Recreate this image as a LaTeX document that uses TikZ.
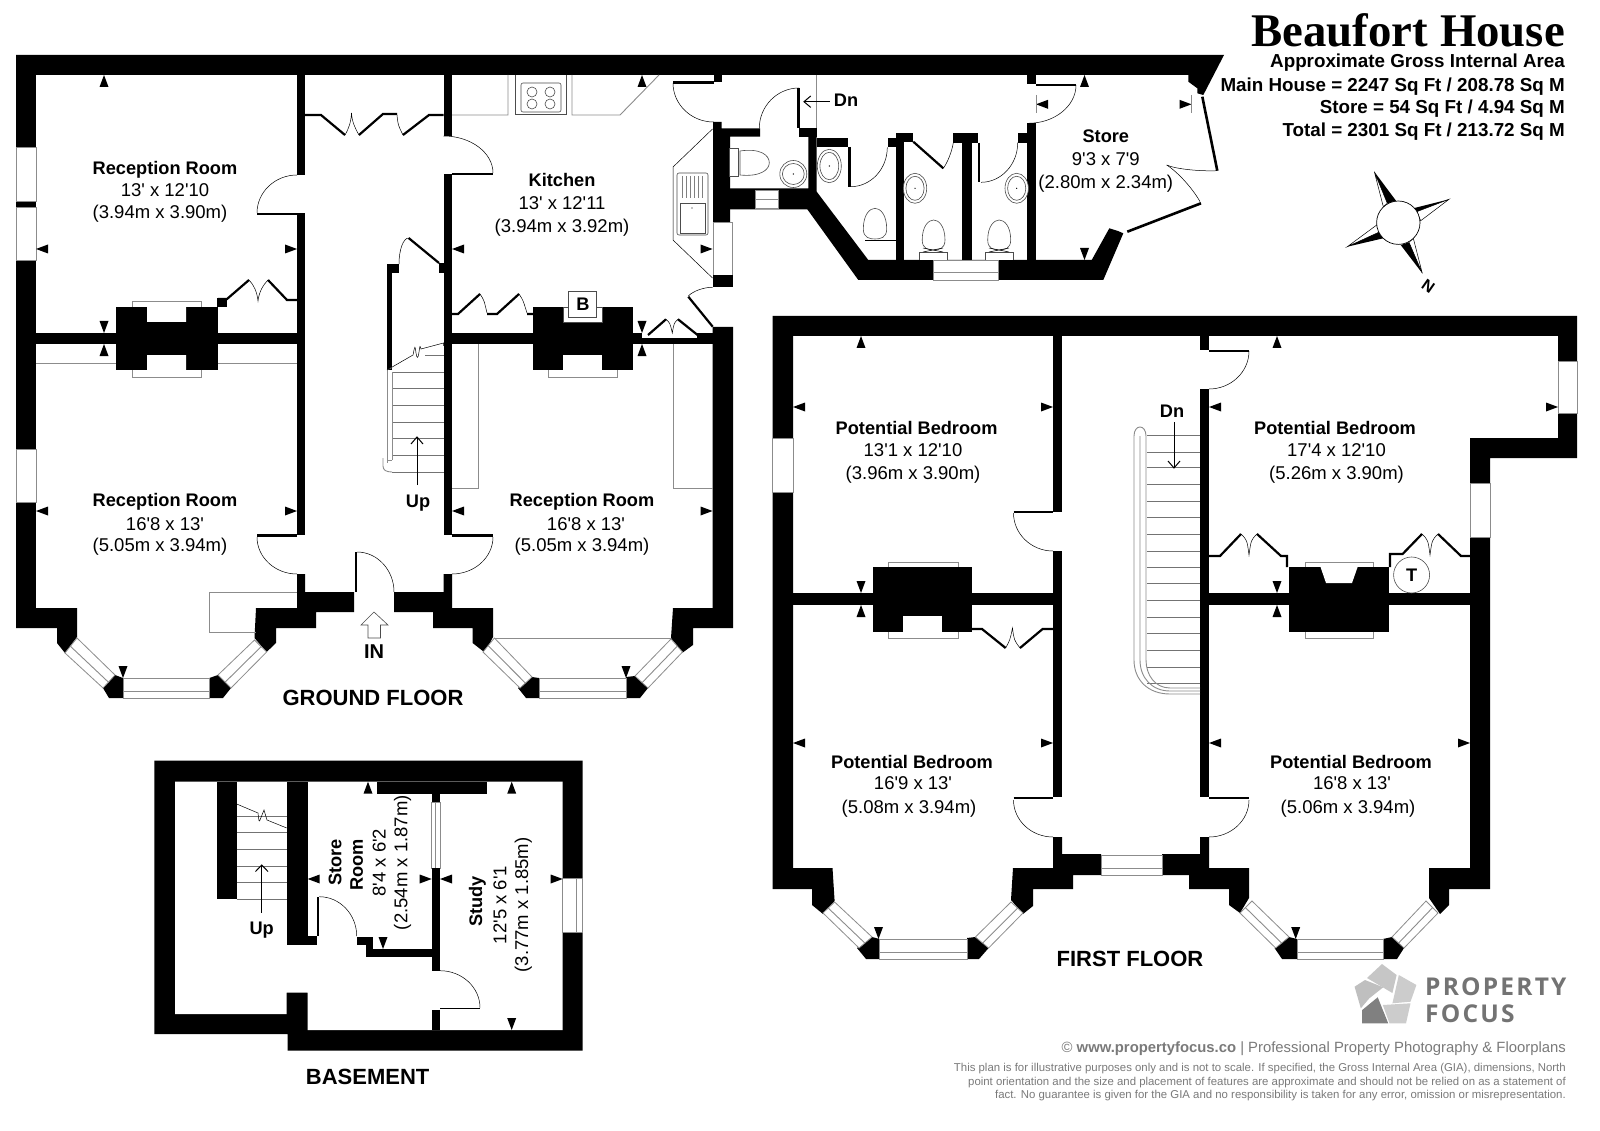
\documentclass[tikz,border=0pt]{standalone}
\usepackage{fontspec}
\setmainfont{Liberation Sans}[Ligatures=TeXOff]
\newfontfamily\titlefont{Liberation Serif}[Ligatures=TeXOff]
\newfontfamily\logofont{Open Sans}[Ligatures=TeXOff,LetterSpace=9]
\usetikzlibrary{calc}
\definecolor{glassgray}{gray}{0.55}
\definecolor{logotext}{gray}{0.45}
\definecolor{smallprint}{gray}{0.48}
\tikzset{
  wallfill/.style={fill=black,draw=none},
  glass/.style={fill=white,draw=glassgray,line width=0.8pt},
  greyline/.style={draw=glassgray,line width=0.9pt},
  thinline/.style={draw=black,line width=0.5pt},
  fixture/.style={draw=black!70,line width=0.6pt,fill=white},
  leaf/.style={draw=black,line width=2.2pt},
  tread/.style={draw=black!55,line width=0.7pt},
  openarrow/.style={draw=black,line width=0.6pt},
  roomname/.style={font=\bfseries\fontsize{18.2}{18.2}\selectfont,inner sep=0pt},
  roomdim/.style={font=\fontsize{18.5}{18.5}\selectfont,inner sep=0pt},
  floorname/.style={font=\bfseries\fontsize{22}{22}\selectfont,inner sep=0pt},
  areatext/.style={font=\bfseries\fontsize{18.8}{18.8}\selectfont,inner sep=0pt,anchor=east},
  printtext/.style={font=\fontsize{11.4}{11.4}\selectfont,text=smallprint,inner sep=0pt,anchor=east},
}
\newcommand\dimU[2]{\fill (#1,#2)--(#1-4.5,#2+12)--(#1+4.5,#2+12)--cycle;}
\newcommand\dimD[2]{\fill (#1,#2)--(#1-4.5,#2-12)--(#1+4.5,#2-12)--cycle;}
\newcommand\dimL[2]{\fill (#1,#2)--(#1+12,#2-4.5)--(#1+12,#2+4.5)--cycle;}
\newcommand\dimR[2]{\fill (#1,#2)--(#1-12,#2-4.5)--(#1-12,#2+4.5)--cycle;}
\newcommand\doorarc[3]{\draw[thinline] (#1) .. controls ($(#1)!0.55!(#3)$) and ($(#2)!0.55!(#3)$) .. (#2);}
\newcommand\wallrect[4]{\fill[wallfill] (#1,#2) rectangle (#3,#4);}
\newcommand\winrect[4]{\draw[glass] (#1,#2) rectangle (#3,#4);}
\newcommand\slantwin[4]{\draw[glass] (#1)--(#2)--(#3)--(#4)--cycle;
  \draw[greyline] ($(#1)!0.45!(#2)$)--($(#4)!0.45!(#3)$);}
% tip, black side, white side, mid point on the circle
\newcommand\compassarm[4]{%
  \draw[fill=white,draw=black,line width=0.5pt] (#1)--(#3)--(#4)--cycle;
  \fill (#1)--(#2)--(#4)--cycle;}
% egg shaped toilet bowl: centre x, top y, half width, widest y
\newcommand\eggbowl[4]{\draw[fixture] (#1-#3,#4) .. controls (#1-#3,#2+6) and (#1-5,#2) .. (#1,#2) .. controls (#1+5,#2) and (#1+#3,#2+6) .. (#1+#3,#4) .. controls (#1+#3,#4+9) and (#1+5,#4+10) .. (#1,#4+10) .. controls (#1-5,#4+10) and (#1-#3,#4+9) .. (#1-#3,#4) -- cycle;}
\newcommand\basin[4]{\draw[fixture] (#1,#2) ellipse (#3 and #4);\draw[fixture] (#1,#2) ellipse (#3-2.6 and #4-3);\fill (#1,#2) circle (0.7);}
\begin{document}
\begin{tikzpicture}[x=1pt,y=-1pt]
\useasboundingbox (0,0) rectangle (1600,1131);
\fill[white] (0,0) rectangle (1600,1131);

%% ================= GROUND FLOOR =================
% top band
\fill[wallfill] (16,55)--(1224,55)--(1203.3,95)--(1197.3,93.3)--(1197.3,88.3)--(1188.3,81.7)--(1188.3,75)--(16,75)--cycle;
% left wall + left bay
\wallrect{16}{75}{36}{628}
\fill[wallfill] (16,608)--(77,608)--(77,637)--(65,653)--(57,643)--(57,628)--(16,628)--cycle;
\fill[wallfill] (115,675)--(123,678)--(123,698)--(109,698)--(103,688)--cycle;
\fill[wallfill] (209.4,678)--(209.4,698)--(223,698)--(231,688)--(218,675)--cycle;
\fill[wallfill] (256,608)--(297,608)--(297,574)--(305,574)--(305,592)--(354,592)--(354,612)--(316,612)--(316,628)--(276,628)--(276,643)--(266.6,652)--(254.5,638)--cycle;
\fill[wallfill] (394,592)--(443.5,592)--(443.5,574)--(452,574)--(452,608)--(493,608)--(493,637)--(485,652.7)--(472.6,643)--(472.6,628)--(433,628)--(433,612)--(394,612)--cycle;
\wallrect{355}{552}{357}{592}
% right bay
\fill[wallfill] (532,677)--(539,678)--(539,698)--(526,698)--(518,688)--cycle;
\fill[wallfill] (626,677)--(626,698)--(640,698)--(648,688)--(635,676)--cycle;
\fill[wallfill] (671,638)--(673,608)--(712.5,608)--(712.5,327)--(733,327)--(733,628)--(693,628)--(693,645)--(682.5,652.7)--cycle;
% windows ground
\winrect{16}{147}{36}{201}\winrect{16}{207}{36}{260}\winrect{16}{449}{36}{502}
\slantwin{65,653}{77,638}{115,675}{103,688}
\slantwin{231,688}{218,675}{254.5,640}{266.6,652}
\slantwin{483,652}{494.4,638}{532,677}{520,688}
\slantwin{648,688}{635,676}{671,639}{682.5,652}
\draw[glass] (123,678) rectangle (209.4,698); \draw[greyline] (123,691)--(209.4,691);
\draw[glass] (539,678) rectangle (626,698); \draw[greyline] (539,691)--(626,691);
\draw[greyline] (494.4,638)--(671,638);
% hall walls
\wallrect{297}{75}{305}{175}\wallrect{297}{213}{305}{535}
\wallrect{443.5}{75}{452}{136}\wallrect{443.5}{174}{452}{535}
% door leaves and arcs ground
\draw[leaf] (257,214)--(297,214);\doorarc{257,213}{297,175}{257,175}
\draw[leaf] (452,174)--(493,174);\doorarc{493,173}{443.5,136}{493,136}
\draw[leaf] (257,535.5)--(297,535.5);\doorarc{257,537}{297,574}{257,574}
\draw[leaf] (452,535.5)--(493,535.5);\doorarc{493,537}{452,574}{493,574}
\doorarc{357,552}{394,592}{394,552}
% party walls and chimney
\wallrect{36}{333}{297}{344}\wallrect{116}{307}{218}{370}
\fill[white] (147,307) rectangle (186,322) (147,355) rectangle (186,370);
\draw[greyline] (132,307)--(132,301)--(201,301)--(201,307) (132,370)--(132,377)--(201,377)--(201,370);
\draw[greyline] (36,363)--(116,363) (218,363)--(297,363);
\wallrect{452}{333}{533}{344}\wallrect{533}{307}{632.6}{370}
\wallrect{632.6}{338.3}{712.7}{344}\wallrect{632.6}{333}{642}{338.3}\wallrect{696.7}{333}{712.7}{338.3}
\draw[fixture] (563,307) rectangle (602,322);
\draw[fixture] (568.6,291) rectangle (596,317);
\fill[white] (563,355) rectangle (602,370);
\draw[greyline] (548,370)--(548,377)--(617,377)--(617,370);
\draw[greyline] (478,344)--(478,488)--(452,488) (673,344)--(673,488)--(712.5,488);
\draw[greyline] (209.4,592)--(297,592) (209.4,592)--(209.4,632)--(255.5,632);
% hall cupboard
\draw[leaf,line join=miter] (305,115)--(321,115)--(345,135) (359,135)--(383,114)--(397,114) (403,135)--(429,115)--(443.5,115);
\draw[thinline] (345,135) .. controls (349,128) and (351,122) .. (351.5,113) .. controls (352,122) and (355,128) .. (359,135);
\draw[thinline] (397,115) .. controls (398,125) .. (403,135);
% reception cupboard
\wallrect{217}{298}{227}{307}
\draw[leaf] (218,299)--(227,299)--(249,280) (268,280)--(287,300)--(297,300);
\draw[thinline] (249,280) .. controls (254,285) and (257,292) .. (258,301) .. controls (259,292) and (263,285) .. (268,280);
% kitchen cupboards
\draw[leaf] (452,314)--(458,314)--(480,294) (487,314)--(497,314)--(519,294) (527,314)--(533,314);
\draw[thinline] (480,294) .. controls (484,300) .. (487,313) (519,294) .. controls (523,300) .. (527,313);
\draw[leaf] (648,335)--(666,319.3) (678,319.3)--(701.7,338.3);
\draw[thinline] (666,319.3) .. controls (670,323) .. (672.3,333) .. controls (674,323) .. (678,319.3);
% ground stairs
\wallrect{387}{264}{392}{370}\wallrect{392}{264}{399}{273}\wallrect{439}{263}{443.5}{273}
\draw[leaf] (408.6,238)--(439,263);\doorarc{408.6,238}{399,264}{399,238}
\draw[tread] (392,372)--(443.5,372) (392,388)--(443.5,388) (392,405)--(443.5,405) (392,422)--(443.5,422) (392,438)--(443.5,438) (392,455)--(443.5,455) (392,472)--(443.5,472);
\draw[tread] (443.5,355)--(425,355);
\draw[greyline] (387,370)--(387,463) (392,372)--(392,460) (387,460)--(392,460);
\draw[greyline] (383,458)--(383,466) .. controls (383,470) and (386,472) .. (392,472);
\draw[thinline,fill=white] (387,370)--(413,355) .. controls (415,345) .. (416,353) .. controls (417,359) and (418,359) .. (419,352) .. controls (420,345) .. (421,349) -- (443.5,343)--(443.5,346);
\draw[openarrow] (417,485)--(417,437);\draw[leaf,line width=1pt] (411,444)--(417,437)--(423,444);
% kitchen fittings
\draw[greyline] (452,115)--(508,115)--(508,75) (572,75)--(572,115)--(620,115)--(659,75);
\draw[fixture] (515,75)--(515,114)--(566,114)--(566,75);
\draw[fixture,rounded corners=2pt] (521,83) rectangle (561,112);
\foreach \cx in {532,550} \foreach \cy in {92,104} \draw[fixture] (\cx,\cy) circle (5);
\draw[thinline] (712.5,129)--(673,167)--(673,240)--(712.5,278);
\draw[fixture,rounded corners=2pt] (677,173) rectangle (708,235);
\draw[fixture] (680,203) rectangle (705,233);
\foreach \sx in {682,686,690,694,698,702} \draw[thinline,draw=black!50] (\sx,176)--(\sx,198);
\fill (692,208) circle (0.6);
% kitchen corner walls and door
\fill[wallfill] (713,122)--(721.5,122)--(721.5,128.3)--(760,128.3)--(760,136.7)--(730,136.7)--(730,222)--(713,222)--cycle;
\winrect{713}{222}{732}{275}\wallrect{713}{275}{732.7}{287.3}
\wallrect{713.6}{75}{721.5}{82}
\draw[leaf] (673,82.5)--(714,82.5);\doorarc{673,83}{713.6,122}{673,122}
\draw[leaf] (688.3,296.7)--(712.7,326.7);\doorarc{688.3,296}{712.7,287.3}{697,287}
\draw[leaf,line width=2.6pt] (798.5,88)--(798.5,128);\doorarc{799,88}{759.3,128.3}{759.3,88}
\draw[greyline] (816.7,75)--(816.7,128);
% WC block walls
\wallrect{799}{128.3}{816.7}{136.7}
\fill[wallfill] (808.3,136.7)--(816.7,136.7)--(816.7,191.7)--(868.3,260)--(1091.7,260)--(1109.3,228.3)--(1118,231)--(1123.3,233.3)--(1103.3,280)--(858.3,280)--(807.3,209.3)--(730,209.3)--(730,188.3)--(808.3,188.3)--cycle;
\wallrect{816.7}{138.3}{847.7}{147.3}
\draw[glass] (755.7,190) rectangle (778.3,208.3);\draw[greyline] (755.7,199)--(778.3,199);
\draw[glass] (933.3,260.7) rectangle (998.3,280);\draw[greyline] (933.3,272.7)--(998.3,272.7);
\wallrect{895.7}{133.3}{904}{260}\wallrect{904}{133.3}{913.3}{141.7}\wallrect{887.7}{138.3}{895.7}{147.3}
\wallrect{962.3}{142}{971.7}{260}\wallrect{953.3}{133.3}{978.3}{142.7}
\wallrect{1027.3}{75}{1036}{84.3}\wallrect{1027.3}{123.3}{1036}{260}\wallrect{1017.7}{133.3}{1027.3}{142.7}
\draw[leaf] (1036,85)--(1076,85);\doorarc{1076,85}{1028.3,123.3}{1076,123.3}
\draw[leaf] (849.4,147)--(849.4,186.7);\doorarc{850.7,186.7}{887.3,147.3}{887.3,186.7}
\draw[leaf] (913.3,141.7)--(943.3,168.3);\doorarc{943.3,168.3}{953.3,142.7}{951,158}
\draw[leaf] (979.3,142.7)--(979.3,182.3);\doorarc{981,182.3}{1017.7,142.7}{1017.7,182.3}
\draw[leaf,line width=2.6pt] (1127.3,231.7)--(1201,203.3);\doorarc{1200,201.7}{1166.7,165}{1187,178}
\doorarc{1166.7,165}{1217.3,170.7}{1182,172}
\draw[leaf,line width=2.6pt] (1217.3,170.7)--(1202.3,96.7);
% sanitary ware
\draw[fixture] (729.3,148.3) rectangle (738.3,176.7);
\draw[fixture] (740,151) .. controls (760,148) and (769.3,155) .. (769.3,162.7) .. controls (769.3,170) and (760,177) .. (740,175) -- cycle;
\basin{793.3}{174}{13.5}{13.5}
\basin{829.3}{166}{12}{16.7}
\basin{915}{188.3}{11.7}{15}
\basin{1016.7}{188.3}{11.7}{15}
\eggbowl{875}{208.3}{11.7}{229}
\draw[thinline] (865,240.7)--(895.7,240.7);
\eggbowl{933.6}{220}{11.4}{240}
\eggbowl{999.2}{220}{11.5}{240}
\draw[fixture] (919,260)--(919,252.3)--(947.7,252.3)--(947.7,260);
\draw[fixture] (985,260)--(985,252.3)--(1013.3,252.3)--(1013.3,260);
\draw[thinline] (923,248)--(943,252) (923,252)--(943,248) (989,248)--(1009,252) (989,252)--(1009,248);
% ground dims
\dimU{104}{75}\dimL{36}{249}\dimR{297}{249}\dimD{104}{333}\dimU{104}{344}
\dimL{452}{249}\dimR{712.5}{249}\dimU{642}{75}\dimD{642}{333}\dimU{642}{344}
\dimL{36}{511}\dimR{297}{511}\dimD{123}{678}\dimL{452}{511}\dimR{712.5}{511}\dimD{626}{678}
\dimU{1084.5}{75}\dimD{1084.5}{260}\dimL{1036}{104.3}\dimR{1191.5}{104.3}
\draw[greyline] (1036,95)--(1036,113.5) (1191.5,95)--(1191.5,113.5);
\draw[openarrow] (804,101.7)--(830,101.7);\draw[leaf,line width=1pt] (810.7,96)--(804,101.7)--(810.7,107.4);
% IN arrow
\draw[fixture] (374,612)--(361,625)--(368,625)--(368,638)--(380.5,638)--(380.5,625)--(388,625)--cycle;

%% ================= FIRST FLOOR =================
\fill[wallfill] (772.6,316)--(1577,316)--(1577,458)--(1490,458)--(1490,889)--(1449,889)--(1449,905)--(1440,914)--(1429,898)--(1429,868)--(1470,868)--(1470,438)--(1558,438)--(1558,336)--(793,336)--(793,868)--(832.5,868)--(834.6,901)--(823,914)--(812,905)--(812,889)--(772.6,889)--cycle;
\winrect{1558}{361}{1577}{413}\winrect{1470}{483}{1490}{537}\winrect{772.6}{438}{793}{492}
\fill[wallfill] (872,937)--(879.6,939)--(879.6,959)--(866,959)--(857,948)--cycle;
\fill[wallfill] (967,938)--(967,959)--(979,959)--(988.6,948)--(975.4,937)--cycle;
\fill[wallfill] (1013,868)--(1053,868)--(1053,837)--(1062,837)--(1062,854)--(1101,854)--(1101,875)--(1073,875)--(1073,889)--(1033,889)--(1033,906)--(1023,914)--(1011,900)--cycle;
\fill[wallfill] (1162,854)--(1200,854)--(1200,837)--(1209,837)--(1209,868)--(1249,868)--(1249,898)--(1240,913)--(1229,905)--(1229,889)--(1189,889)--(1189,875)--(1162,875)--cycle;
\fill[wallfill] (1289,937)--(1297,939)--(1297,959)--(1282,959)--(1274.5,948)--cycle;
\fill[wallfill] (1383,939)--(1383,959)--(1397,959)--(1404,948)--(1392,937)--cycle;
\slantwin{823,913}{834.6,902}{872,937}{859,948}
\slantwin{988.6,948}{975.4,937}{1011,902}{1023,913}
\slantwin{1240,913}{1252,901}{1289,937}{1275.6,948}
\slantwin{1404,948}{1392,937}{1426,901}{1438,913}
\draw[glass] (879.6,939) rectangle (967,959);\draw[greyline] (879.6,952)--(967,952);
\draw[glass] (1297,939) rectangle (1383,959);\draw[greyline] (1297,952)--(1383,952);
\draw[glass] (1101,855) rectangle (1162,875);\draw[greyline] (1101,868)--(1162,868);
\wallrect{1053}{336}{1062}{512}\wallrect{1053}{551}{1062}{797}
\wallrect{1200}{336}{1209}{350}\wallrect{1200}{389}{1209}{797}
\draw[leaf] (1013.5,512)--(1053,512);\doorarc{1013.5,513}{1053,551}{1013.5,551}
\draw[leaf] (1209,351)--(1249,351);\doorarc{1249,351}{1209,389}{1249,389}
\draw[leaf] (1013.5,798)--(1053,798);\doorarc{1013.5,800}{1053,837}{1013.5,837}
\draw[leaf] (1209,798)--(1249,798);\doorarc{1249,800}{1209,837}{1249,837}
\wallrect{793}{593}{1053}{605}\wallrect{873}{567}{972}{632}
\fill[white] (903.4,616) rectangle (942,632);
\draw[greyline] (888,567)--(888,562)--(958,562)--(958,567) (888,632)--(888,638)--(958,638)--(958,632);
\wallrect{1209}{593}{1470}{605}\wallrect{1289}{567}{1389}{632}
\fill[white] (1320.5,567)--(1357.6,567)--(1352,583)--(1326,583)--cycle;
\draw[greyline] (1305,567)--(1305,562)--(1373.5,562)--(1373.5,567) (1305,632)--(1305,638)--(1373.5,638)--(1373.5,632);
% first floor cupboards
\draw[leaf] (972,629)--(982,629)--(1005.6,648) (1020,648)--(1042.6,629)--(1053,629);
\draw[thinline] (1005.6,648) .. controls (1010,640) .. (1012.5,628) .. controls (1014,640) .. (1020,648);
\draw[leaf] (1209,556)--(1220,556)--(1241,534) (1257,534)--(1281,556)--(1287,556)--(1287,567);
\draw[thinline] (1241,534) .. controls (1247,540) .. (1249,555) .. controls (1251,540) .. (1257,534);
\draw[leaf] (1390,567)--(1390,554)--(1402.6,554)--(1422,534) (1438,534)--(1461,556)--(1470,556);
\draw[thinline] (1422,534) .. controls (1428,540) .. (1430,555) .. controls (1432,540) .. (1438,534);
\draw[fixture] (1411.6,575) circle (18);
% first floor stairs
\foreach \ty in {435,452,467,484,501,517,534,551,567,583,600,617,633,650,667,683} \draw[tread] (1147,\ty)--(1200,\ty);
\draw[greyline] (1200,694)--(1170,694) .. controls (1148,694) and (1134,680) .. (1134,660)--(1134,436) .. controls (1134,424) and (1146,424) .. (1146,436)--(1146,660) .. controls (1146,675) and (1155,688) .. (1170,688)--(1200,688);
\draw[greyline] (1140,436)--(1140,660) .. controls (1140,678) and (1152,691) .. (1170,691)--(1200,691);
\draw[openarrow] (1174,422)--(1174,468);\draw[leaf,line width=1pt] (1168,461)--(1174,468)--(1180,461);
% first dims
\dimU{861}{336}\dimD{861}{593}\dimU{861}{605}\dimL{793}{407}\dimR{1053}{407}
\dimU{1277}{336}\dimL{1209}{407}\dimR{1558}{407}\dimD{1277}{593}\dimU{1277}{605}
\dimL{793}{743}\dimR{1053}{743}\dimL{1209}{743}\dimR{1470}{743}\dimD{878.5}{939}\dimD{1295.7}{939}

%% ================= BASEMENT =================
\fill[wallfill] (154.3,760.7)--(582.7,760.7)--(582.7,1050.7)--(287.7,1050.7)--(287.7,1034)--(154.3,1034)--cycle;
\fill[white] (175,781.7)--(562.7,781.7)--(562.7,1030)--(307.7,1030)--(307.7,992.7)--(286.7,992.7)--(286.7,1014)--(175,1014)--cycle;
\wallrect{216.7}{781.7}{236.7}{899}
\wallrect{286.7}{781.7}{307.7}{945}\wallrect{307.7}{936}{316.7}{945}\wallrect{316.7}{896.7}{319.3}{936}
\wallrect{376.7}{781.7}{486.7}{794}\wallrect{431.7}{794}{440}{802.7}
\draw[glass] (431.7,802.7) rectangle (440,868.3);\draw[greyline] (435.8,802.7)--(435.8,868.3);
\wallrect{431.7}{868.3}{440}{970.7}\wallrect{431.7}{1010}{440}{1030}
\wallrect{440}{1007.7}{480}{1009.3}
\wallrect{356.7}{936.7}{373.3}{945}\wallrect{365.7}{945}{373.3}{957.3}\wallrect{373.3}{949}{431.7}{957.3}
\draw[glass] (562.7,878.3) rectangle (582.7,932.3);\draw[greyline] (576,878.3)--(576,932.3);
\doorarc{319.3,896.7}{356.7,936}{356.7,896.7}
\doorarc{440,970.7}{480,1007.7}{480,970.7}
\foreach \ty in {816.7,832.7,849.3,866,882.3,899} \draw[tread] (236.7,\ty)--(286.7,\ty);
\draw[thinline] (236.7,804)--(258,813) .. controls (259,822) .. (260,820) -- (264,810) -- (267,820) -- (286.7,828);
\draw[openarrow] (261.7,912.7)--(261.7,865);\draw[leaf,line width=1pt] (255.5,871.5)--(261.7,865)--(268,871.5);
\dimU{368}{781.7}\dimU{511.7}{781.7}\dimD{511.7}{1030}\dimD{383}{949}
\dimL{307.7}{879}\dimR{431.7}{879}\dimL{440}{879}\dimR{562.7}{879}

%% ================= COMPASS =================
\coordinate (comp) at (1398.3,222.7);
\compassarm{1374.3,171.7}{1396.7,201.7}{1383.3,206.7}{1387.3,203.3}
\compassarm{1449,199.3}{1413.3,208.3}{1420.7,220.7}{1416.7,211.7}
\compassarm{1347.3,246.7}{1383.3,238.3}{1376.7,225}{1380,231.7}
\compassarm{1422.3,273.3}{1400.7,245}{1413.3,238.3}{1409,242.3}
\draw[fill=white,draw=black,line width=0.7pt] (comp) circle (21.7);
\node[font=\bfseries\fontsize{16}{16}\selectfont,inner sep=0pt,rotate=-35] (north) at (1428.3,286.7) {N};

%% ================= LOGO =================
\fill[gray!45] (1382,964)--(1396.6,975)--(1392.4,993)--(1367,978)--cycle;
\fill[gray!40] (1398.8,975)--(1416.4,985)--(1410.5,1001.7)--(1392.4,1003.3)--(1394.7,993.3)--cycle;
\fill[gray!40] (1410.5,1003.3)--(1406,1023.3)--(1389.5,1023.3)--(1382.8,1005)--cycle;
\fill[gray!100] (1377.7,997.3)--(1388.2,1023.3)--(1362.2,1023.3)--(1362.2,1010)--cycle;
\fill[gray!50] (1354.6,986.7)--(1365,980)--(1383.2,987.3)--(1369.3,998.3)--(1360.8,1008.3)--cycle;
\node[font=\logofont\fontsize{24.5}{24.5}\selectfont\bfseries,text=logotext,inner sep=0pt,anchor=west] (logoa) at (1425,987) {PROPERTY};
\node[font=\logofont\fontsize{24.5}{24.5}\selectfont\bfseries,text=logotext,inner sep=0pt,anchor=west] (logob) at (1425,1014) {FOCUS};

%% ================= TEXT =================
\node[font=\titlefont\bfseries\fontsize{46.8}{46.8}\selectfont,inner sep=0pt,anchor=base east] (title) at (1565,47) {Beaufort House};
\node[areatext,font=\bfseries\fontsize{18.8}{18.8}\selectfont] (area) at (1565,63) {Approximate Gross Internal Area};
\node[areatext] (main) at (1565,87) {Main House = 2247 Sq Ft / 208.78 Sq M};
\node[areatext] (store) at (1565,109) {Store = 54 Sq Ft / 4.94 Sq M};
\node[areatext] (total) at (1565,132) {Total = 2301 Sq Ft / 213.72 Sq M};

\node[roomname] (r1) at (165,170) {Reception Room};
\node[roomdim] (r1a) at (165,190) {13' x 12'10};
\node[roomdim] (r1b) at (160,214) {(3.94m x 3.90m)};
\node[roomname] (k1) at (562,180) {Kitchen};
\node[roomdim] (k1a) at (562,203.5) {13' x 12'11};
\node[roomdim] (k1b) at (562,228) {(3.94m x 3.92m)};
\node[roomname] (r2) at (165,502) {Reception Room};
\node[roomdim] (r2a) at (165,524) {16'8 x 13'};
\node[roomdim] (r2b) at (160,547) {(5.05m x 3.94m)};
\node[roomname] (r3) at (582,502) {Reception Room};
\node[roomdim] (r3a) at (586,524) {16'8 x 13'};
\node[roomdim] (r3b) at (582,547) {(5.05m x 3.94m)};
\node[roomname] (boiler) at (583,304) {B};
\node[roomname] (up1) at (418,503) {Up};
\node[roomname,font=\bfseries\fontsize{20}{20}\selectfont] (in) at (374,652) {IN};
\node[floorname] (gf) at (373,698) {GROUND FLOOR};
\node[roomname] (dn1) at (846,100) {Dn};
\node[roomname] (s1) at (1105.8,136) {Store};
\node[roomdim] (s1a) at (1105.8,159) {9'3 x 7'9};
\node[roomdim] (s1b) at (1105.8,184) {(2.80m x 2.34m)};

\node[roomname] (b1) at (916.6,428) {Potential Bedroom};
\node[roomdim] (b1a) at (913,450) {13'1 x 12'10};
\node[roomdim] (b1b) at (913,475) {(3.96m x 3.90m)};
\node[roomname] (b2) at (1335,428) {Potential Bedroom};
\node[roomdim] (b2a) at (1336.5,450) {17'4 x 12'10};
\node[roomdim] (b2b) at (1336.5,475) {(5.26m x 3.90m)};
\node[roomname] (b3) at (912,762) {Potential Bedroom};
\node[roomdim] (b3a) at (913,783) {16'9 x 13'};
\node[roomdim] (b3b) at (909,809) {(5.08m x 3.94m)};
\node[roomname] (b4) at (1351,762) {Potential Bedroom};
\node[roomdim] (b4a) at (1352,783) {16'8 x 13'};
\node[roomdim] (b4b) at (1348,809) {(5.06m x 3.94m)};
\node[roomname] (dn2) at (1172,411) {Dn};
\node[roomname] (tank) at (1411.6,575) {T};
\node[floorname] (ff) at (1130,959) {FIRST FLOOR};

\node[roomname,rotate=90] (st) at (335,862.7) {Store};
\node[roomname,rotate=90] (rm) at (356.7,865) {Room};
\node[roomdim,rotate=90] (sta) at (379.3,862.7) {8'4 x 6'2};
\node[roomdim,rotate=90] (stb) at (402.7,862.7) {(2.54m x 1.87m)};
\node[roomname,rotate=90] (sd) at (477.3,901.7) {Study};
\node[roomdim,rotate=90] (sda) at (500,905) {12'5 x 6'1};
\node[roomdim,rotate=90] (sdb) at (523.3,905) {(3.77m x 1.85m)};
\node[roomname] (up2) at (261.7,929.7) {Up};
\node[floorname] (bm) at (367.7,1076.7) {BASEMENT};

\node[printtext,font=\fontsize{14.84}{14.84}\selectfont] (web) at (1566,1049) {© \textbf{www.propertyfocus.co} | Professional Property Photography \& Floorplans};
\node[printtext] (d1) at (1566,1068.5) {This plan is for illustrative purposes only and is not to scale. If specified, the Gross Internal Area (GIA), dimensions, North};
\node[printtext] (d2) at (1566,1082.5) {point orientation and the size and placement of features are approximate and should not be relied on as a statement of};
\node[printtext] (d3) at (1566,1096) {fact. No guarantee is given for the GIA and no responsibility is taken for any error, omission or misrepresentation.};
\end{tikzpicture}
\end{document}
